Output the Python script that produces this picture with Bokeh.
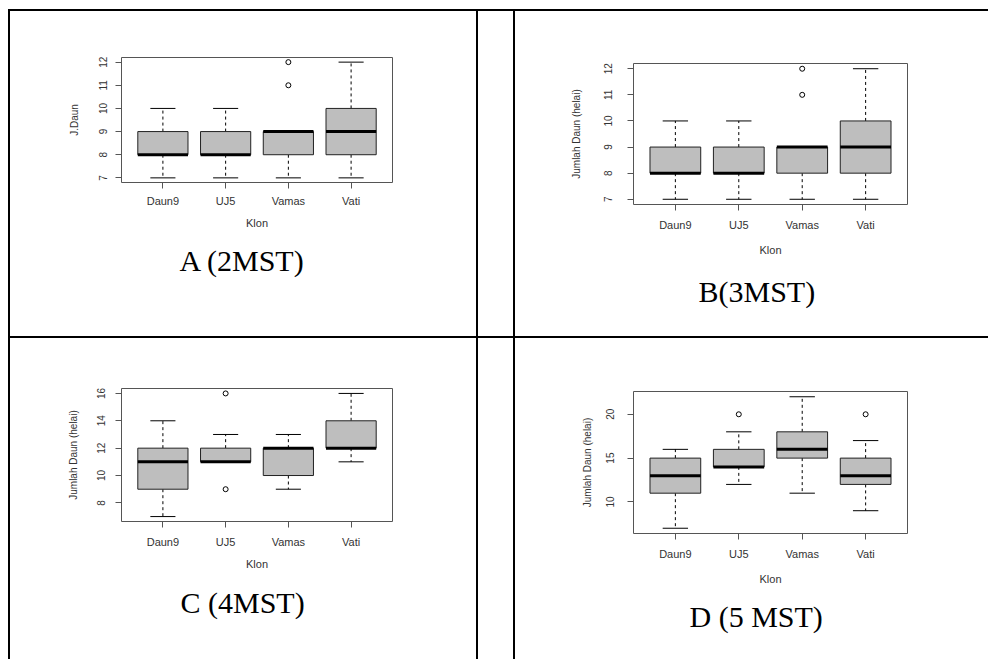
import numpy as np
from bokeh.plotting import figure
from bokeh.models import Range1d, FixedTicker, Title, Spacer
from bokeh.layouts import column, row
from bokeh.embed import file_html
from bokeh.resources import INLINE

# ---------------- data ----------------
klon = ["Daun9", "UJ5", "Vamas", "Vati"]

# A (2MST)
a_low = [7, 7, 7, 7]
a_q1 = [8, 8, 8, 8]
a_med = [8, 8, 9, 9]
a_q3 = [9, 9, 9, 10]
a_high = [10, 10, 9, 12]
a_out_klon = ["Vamas", "Vamas"]
a_out_val = [11, 12]
a_ticks = [7, 8, 9, 10, 11, 12]

# B (3MST)
b_low = [7, 7, 7, 7]
b_q1 = [8, 8, 8, 8]
b_med = [8, 8, 9, 9]
b_q3 = [9, 9, 9, 10]
b_high = [10, 10, 9, 12]
b_out_klon = ["Vamas", "Vamas"]
b_out_val = [11, 12]
b_ticks = [7, 8, 9, 10, 11, 12]

# C (4MST)
c_low = [7, 11, 9, 11]
c_q1 = [9, 11, 10, 12]
c_med = [11, 11, 12, 12]
c_q3 = [12, 12, 12, 14]
c_high = [14, 13, 13, 16]
c_out_klon = ["UJ5", "UJ5"]
c_out_val = [9, 16]
c_ticks = [8, 10, 12, 14, 16]

# D (5 MST)
d_low = [7, 12, 11, 9]
d_q1 = [11, 14, 15, 12]
d_med = [13, 14, 16, 13]
d_q3 = [15, 16, 18, 15]
d_high = [16, 18, 22, 17]
d_out_klon = ["UJ5", "Vati"]
d_out_val = [20, 20]
d_ticks = [10, 15, 20]

captions = ["A (2MST)", "B(3MST)", "C (4MST)", "D (5 MST)"]
ylabels = ["J.Daun", "Jumlah Daun (helai)", "Jumlah Daun (helai)", "Jumlah Daun (helai)"]
xlabel = "Klon"

FRAME = "#555555"
TXT = "#333333"


def boxpanel(width, height, borders, low, q1, med, q3, high, out_k, out_v, ticks,
             ylab, caption, cap_offset, cap_standoff, ystd, xstd, ylab_std, xlab_std):
    pos = np.arange(1, len(klon) + 1)
    low, q1, med, q3, high = map(np.asarray, (low, q1, med, q3, high))
    allv = np.concatenate([low, high, np.asarray(out_v, dtype=float)])
    lo, hi = allv.min(), allv.max()
    pad = (hi - lo) * 0.04
    n = len(klon)
    xpad = n * 0.04
    p = figure(width=width, height=height, output_backend="svg", toolbar_location=None,
               x_range=Range1d(0.5 - xpad, n + 0.5 + xpad), y_range=Range1d(lo - pad, hi + pad),
               min_border_left=borders[0], min_border_right=borders[1],
               min_border_top=borders[2], min_border_bottom=borders[3])
    p.xgrid.visible = False
    p.ygrid.visible = False
    p.outline_line_color = FRAME
    p.outline_line_width = 1
    p.background_fill_color = "white"
    p.border_fill_color = "white"

    bw = 0.8
    sw = 0.4
    # whiskers
    p.segment(x0=pos, y0=q3, x1=pos, y1=high, line_color="black", line_dash="3 3", line_width=1)
    p.segment(x0=pos, y0=q1, x1=pos, y1=low, line_color="black", line_dash="3 3", line_width=1)
    # boxes
    p.vbar(x=pos, width=bw, bottom=q1, top=q3, fill_color="#bebebe", line_color="#222222", line_width=1)
    # medians
    p.segment(x0=pos - bw / 2, y0=med, x1=pos + bw / 2, y1=med, line_color="black", line_width=3)
    # staples
    p.segment(x0=pos - sw / 2, y0=high, x1=pos + sw / 2, y1=high, line_color="black", line_width=1)
    p.segment(x0=pos - sw / 2, y0=low, x1=pos + sw / 2, y1=low, line_color="black", line_width=1)
    # outliers
    ox = [klon.index(k) + 1 for k in out_k]
    p.scatter(x=ox, y=out_v, marker="circle", size=5, fill_color=None, line_color="black", line_width=1)

    xa = p.xaxis[0]
    ya = p.yaxis[0]
    xa.ticker = FixedTicker(ticks=list(pos))
    xa.major_label_overrides = {int(i): k for i, k in zip(pos, klon)}
    ya.ticker = FixedTicker(ticks=ticks)
    ya.major_label_orientation = "vertical"
    for ax in (xa, ya):
        ax.axis_line_color = None
        ax.major_tick_line_color = FRAME
        ax.major_tick_in = 0
        ax.major_tick_out = 6
        ax.minor_tick_line_color = None
        ax.major_label_text_font = "Liberation Sans"
        ax.major_label_text_color = TXT
        ax.axis_label_text_font = "Liberation Sans"
        ax.axis_label_text_font_style = "normal"
        ax.axis_label_text_color = TXT
    xa.major_label_text_font_size = "11px"
    xa.axis_label_text_font_size = "11px"
    ya.major_label_text_font_size = "10px"
    ya.axis_label_text_font_size = "10px"
    xa.axis_label = xlabel
    ya.axis_label = ylab
    ya.major_label_standoff = ystd
    xa.major_label_standoff = xstd
    ya.axis_label_standoff = ylab_std
    xa.axis_label_standoff = xlab_std

    p.add_layout(Title(text=caption, align="left", offset=cap_offset, standoff=cap_standoff,
                       vertical_align="top", text_font="Liberation Serif", text_font_size="30px",
                       text_font_style="normal", text_color="black"), "below")
    return p


pA = boxpanel(466, 325, (111, 84, 46, 154), a_low, a_q1, a_med, a_q3, a_high, a_out_klon, a_out_val,
              a_ticks, ylabels[0], captions[0], 58, 25, 8, 6, 17, 7)
pB = boxpanel(473, 325, (110, 76, 52, 132), b_low, b_q1, b_med, b_q3, b_high, b_out_klon, b_out_val,
              b_ticks, ylabels[1], captions[1], 65, 32, 15, 8, 20, 10)
pC = boxpanel(466, 321, (111, 84, 50, 138), c_low, c_q1, c_med, c_q3, c_high, c_out_klon, c_out_val,
              c_ticks, ylabels[2], captions[2], 59, 26, 10, 8, 16, 7)
pD = boxpanel(473, 321, (118, 81, 53, 126), d_low, d_q1, d_med, d_q3, d_high, d_out_klon, d_out_val,
              d_ticks, ylabels[3], captions[3], 56, 24, 13, 8, 11, 10)


def bar(w, h):
    return Spacer(width=w, height=h, styles={"background-color": "black"})


left_col = column(pA, bar(466, 2), pC, spacing=0)
gap_col = column(Spacer(width=35, height=325), bar(35, 2), Spacer(width=35, height=321), spacing=0)
right_col = column(pB, bar(473, 2), pD, spacing=0)
body = row(Spacer(width=8, height=648), bar(2, 648), left_col, bar(2, 648), gap_col, bar(2, 648),
           right_col, spacing=0)
top = row(Spacer(width=8, height=2), bar(980, 2), spacing=0)
page = column(Spacer(width=988, height=9), top, body, spacing=0)

open("out.html", "w").write(file_html(page, INLINE))
